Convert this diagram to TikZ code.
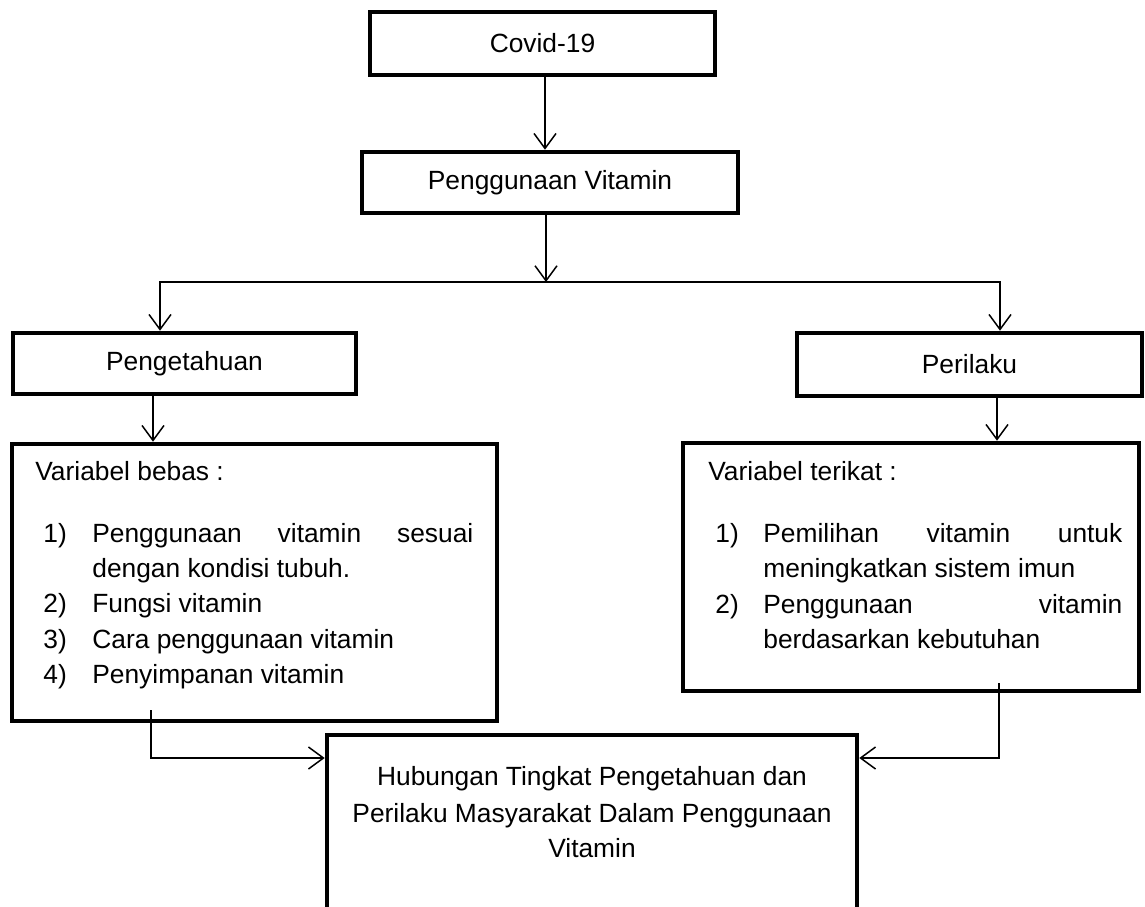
\documentclass[tikz,border=0pt]{standalone}
\usepackage{fontspec}
\setmainfont{Liberation Sans}
\usetikzlibrary{arrows.meta}
\newdimen\px \px=0.02cm
\newcommand\diagfont{\fontsize{15pt}{20pt}\selectfont}
\begin{document}
\begin{tikzpicture}[x=0.02cm,y=-0.02cm,
  box/.style={draw, line width=2.6pt, inner sep=0pt, font=\diagfont},
  txt/.style={anchor=base west, inner sep=0pt, font=\diagfont},
  ctxt/.style={anchor=base, inner sep=0pt, font=\diagfont},
  arr/.style={line width=0.85pt, -{Straight Barb[length=0.3cm, width=0.44cm]}}]
\useasboundingbox (0,0) rectangle (1145,906);

% boxes
\node[box, minimum width=345\px, minimum height=63\px] (covid) at (542.5,43.5) {Covid-19};
\node[box, minimum width=376\px, minimum height=61\px] (pv) at (550,182.5) {Penggunaan Vitamin};
\node[box, minimum width=343\px, minimum height=61\px] (peng) at (184.5,363.5) {Pengetahuan};
\node[box, minimum width=345\px, minimum height=63\px] (peri) at (969.5,364.5) {Perilaku};
\node[box, minimum width=485\px, minimum height=277\px] (bebas) at (254.5,582.5) {};
\node[box, minimum width=456\px, minimum height=248\px] (terikat) at (911,567) {};
\node[box, minimum width=530\px, minimum height=180\px] (hub) at (592,825) {};

% texts of the variable boxes
\node[txt] (b0) at (35,480) {Variabel bebas :};
\node[txt] (b1n) at (43,542) {1)};
\node[txt] (b1) at (92,542) {\makebox[381\px][s]{Penggunaan vitamin sesuai}};
\node[txt] (b1b) at (92,577) {dengan kondisi tubuh.};
\node[txt] (b2n) at (43,612) {2)};
\node[txt] (b2) at (92,612) {Fungsi vitamin};
\node[txt] (b3n) at (43,648) {3)};
\node[txt] (b3) at (92,648) {Cara penggunaan vitamin};
\node[txt] (b4n) at (43,683) {4)};
\node[txt] (b4) at (92,683) {Penyimpanan vitamin};

\node[txt] (t0) at (708,480) {Variabel terikat :};
\node[txt] (t1n) at (715,542) {1)};
\node[txt] (t1) at (763,542) {\makebox[359\px][s]{Pemilihan vitamin untuk}};
\node[txt] (t1b) at (763,577) {meningkatkan sistem imun};
\node[txt] (t2n) at (715,613) {2)};
\node[txt] (t2) at (763,613) {\makebox[359\px][s]{Penggunaan vitamin}};
\node[txt] (t2b) at (763,648) {berdasarkan kebutuhan};

\node[ctxt] (h1) at (592,785) {Hubungan Tingkat Pengetahuan dan};
\node[ctxt] (h2) at (592,822) {Perilaku Masyarakat Dalam Penggunaan};
\node[ctxt] (h3) at (592,857) {Vitamin};

% connector coordinates
\coordinate (xa) at (545,0);
\coordinate (split) at (546,282);
\coordinate (lx) at (160,0);
\coordinate (rx) at (1000,0);
\coordinate (bx) at (153,0);
\coordinate (tx) at (997,0);
\coordinate (lstart) at (151,710);
\coordinate (rstart) at (999,683);
\coordinate (ly) at (0,758);

% connectors
\draw[arr] (covid.south -| xa) -- (pv.north -| xa);
\draw[arr] (pv.south -| split) -- (split);
\draw[arr] (split) -| (peng.north -| lx);
\draw[arr] (split) -| (peri.north -| rx);
\draw[arr] (peng.south -| bx) -- (bebas.north -| bx);
\draw[arr] (peri.south -| tx) -- (terikat.north -| tx);
\draw[arr] (lstart) |- (hub.west |- ly);
\draw[arr] (rstart) |- (hub.east |- ly);
\end{tikzpicture}
\end{document}
